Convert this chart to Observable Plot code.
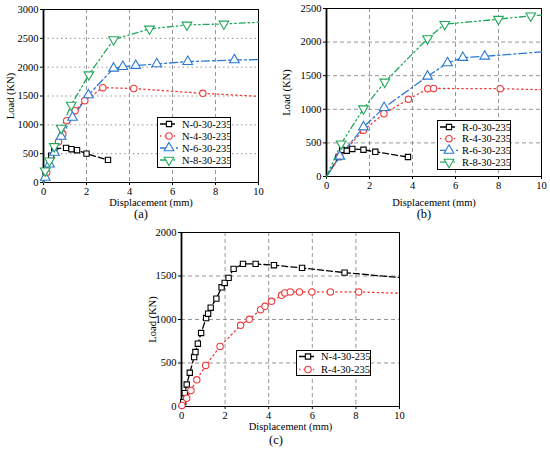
<!DOCTYPE html>
<html>
<head>
<meta charset="utf-8">
<script src="https://cdn.jsdelivr.net/npm/d3@7"></script>
<script src="https://cdn.jsdelivr.net/npm/@observablehq/plot@0.6"></script>
<style>
  html, body { margin: 0; padding: 0; background: #fff; }
  #page { position: relative; width: 550px; height: 452px; overflow: hidden; background: #fff;
          font-family: Liberation Serif, Times New Roman, Times, serif; }
  #page svg, #page svg text { font-family: Liberation Serif, Times New Roman, Times, serif !important; }
  .panel { position: absolute; }
  .tag { position: absolute; font-size: 12.5px; line-height: 1; color: #000; transform: translateX(-50%); }
  .legend { position: absolute; }
</style>
</head>
<body>
<div id="page"></div>
<script>
// ---------- data ----------
const xTicks = [0, 2, 4, 6, 8, 10];
const yTicksA = [0, 500, 1000, 1500, 2000, 2500, 3000];
const yTicksB = [0, 500, 1000, 1500, 2000, 2500];
const yTicksC = [0, 500, 1000, 1500, 2000];

// panel (a)
const aN0x = [0, 0.1, 0.36, 0.5, 1.05, 1.3, 1.56, 2.0, 3.0];
const aN0y = [0, 200, 465, 585, 600, 578, 560, 500, 392];
const aN4x = [0, 0.15, 0.7, 0.9, 1.08, 1.47, 1.92, 2.76, 4.2, 7.41, 10];
const aN4y = [0, 174, 706, 840, 1071, 1245, 1419, 1645, 1630, 1546, 1494];
const aN6x = [0, 0.08, 0.28, 0.51, 0.82, 1.35, 2.09, 3.26, 3.69, 4.29, 5.27, 6.71, 8.88, 10];
const aN6y = [0, 87, 318, 521, 799, 1129, 1517, 1980, 2009, 2027, 2056, 2096, 2125, 2131];
const aN8x = [0, 0.08, 0.28, 0.5, 0.82, 1.29, 2.11, 3.26, 4.93, 6.67, 8.39, 10];
const aN8y = [0, 203, 376, 625, 944, 1343, 1870, 2478, 2664, 2733, 2750, 2779];

// panel (b)
const bR0x = [0, 0.57, 0.73, 0.94, 1.2, 1.72, 2.27, 3.79];
const bR0y = [0, 290, 395, 383, 410, 398, 368, 290];
const bR4x = [0, 0.62, 1.72, 2.67, 3.81, 4.71, 4.98, 8.08, 10];
const bR4y = [0, 300, 690, 934, 1148, 1307, 1310, 1307, 1292];
const bR6x = [0, 0.62, 1.72, 2.68, 4.7, 5.63, 6.34, 7.36, 10];
const bR6y = [0, 300, 736, 1024, 1491, 1690, 1769, 1789, 1854];
const bR8x = [0, 0.68, 1.72, 2.71, 4.7, 5.5, 8.0, 9.5, 10];
const bR8y = [0, 487, 1009, 1407, 2053, 2266, 2341, 2391, 2400];

// panel (c)
const cN4x = [0, 0.08, 0.15, 0.24, 0.38, 0.58, 0.64, 0.75, 0.9, 1.13, 1.22, 1.34, 1.6, 1.84, 1.98, 2.16, 2.39, 2.82, 3.4, 4.24, 5.53, 7.48, 10];
const cN4y = [0, 50, 154, 253, 388, 568, 626, 722, 845, 1017, 1067, 1136, 1240, 1370, 1420, 1478, 1582, 1639, 1639, 1624, 1593, 1539, 1482];
const cR4x = [0, 0.02, 0.24, 0.43, 0.7, 1.11, 1.77, 2.71, 3.11, 3.63, 3.83, 4.13, 4.59, 4.74, 4.99, 5.41, 5.98, 6.83, 8.13, 10];
const cR4y = [0, 12, 96, 184, 307, 472, 691, 933, 1002, 1113, 1152, 1209, 1278, 1305, 1317, 1317, 1317, 1317, 1317, 1301];

// ---------- styles ----------
const FONT = "Liberation Serif, Times New Roman, Times, serif";
const sq3 = Math.sqrt(3);
const triangleDown = {
  draw(ctx, size) {
    const y = -Math.sqrt(size / (sq3 * 3));
    ctx.moveTo(0, -y * 2);
    ctx.lineTo(-sq3 * y, y);
    ctx.lineTo(sq3 * y, y);
    ctx.closePath();
  }
};
const STY = {
  black: {color: "#000000", dash: "6,3", symbol: d3.symbolSquare, r: 3.0},
  red:   {color: "#f03a3a", dash: "1.4,3.2", symbol: d3.symbolCircle, r: 3.2},
  blue:  {color: "#2a78d2", dash: "8,3,2,3", symbol: d3.symbolTriangle, r: 3.6},
  green: {color: "#20a85a", dash: "6,3,1.5,3,1.5,3", symbol: triangleDown, r: 3.6}
};

function zipXY(xs, ys) { return xs.map((x, i) => ({x, y: ys[i]})); }

const page = document.getElementById("page");

function panel(cfg) {
  const series = cfg.series.map(s => ({...s, ...STY[s.style], data: zipXY(s.xs, s.ys)}));
  const marks = [
    Plot.ruleX(xTicks.slice(1, -1), {stroke: "#8a8a8a", strokeDasharray: "4,3", strokeWidth: 0.9}),
    Plot.ruleY(cfg.yTicks.slice(1, -1), {stroke: "#8a8a8a", strokeDasharray: cfg.hDash || "4,3", strokeWidth: 0.9}),
    Plot.frame({stroke: "#000", strokeWidth: 1}),
    Plot.ruleX([0], {stroke: "#000", strokeWidth: 1.8})
  ];
  for (const s of series) {
    marks.push(Plot.line(s.data, {x: "x", y: "y", stroke: s.color, strokeDasharray: s.dash, strokeWidth: 1.3}));
  }
  for (const s of series) {
    marks.push(Plot.dot(s.data.filter(d => d.x > 0 && d.x < 10), {
      x: "x", y: "y", symbol: s.symbol, r: s.r, stroke: s.color, fill: "white", strokeWidth: 1.1
    }));
  }
  marks.push(Plot.text(["Displacement (mm)"], {
    frameAnchor: "bottom", lineAnchor: "middle", textAnchor: "middle",
    dy: cfg.xTitleDy, text: d => d, fontSize: 10.5
  }));
  marks.push(Plot.text(["Load (KN)"], {
    frameAnchor: "left", lineAnchor: "middle", textAnchor: "middle",
    dx: cfg.yTitleDx, rotate: -90, text: d => d, fontSize: 10.5
  }));

  const svg = Plot.plot({
    width: cfg.width, height: cfg.height,
    marginTop: cfg.mt, marginRight: cfg.mr, marginBottom: cfg.mb, marginLeft: cfg.ml,
    style: {fontFamily: FONT, fontSize: "10.5px", background: "transparent", color: "#000"},
    x: {domain: [0, 10], ticks: xTicks, tickSize: 3, tickPadding: 2, tickFormat: d => String(d), label: null},
    y: {domain: [0, cfg.yMax], ticks: cfg.yTicks, tickSize: 3, tickPadding: 2, tickFormat: d => String(d), label: null},
    marks
  });
  svg.classList.add("panel");
  svg.style.left = cfg.left + "px";
  svg.style.top = cfg.top + "px";
  svg.style.overflow = "visible";
  page.appendChild(svg);

  // legend
  const L = cfg.legend;
  const lg = d3.create("svg").attr("class", "legend")
    .attr("width", L.w).attr("height", L.h)
    .style("left", L.x + "px").style("top", L.y + "px");
  lg.append("rect").attr("x", 0.5).attr("y", 0.5).attr("width", L.w - 1).attr("height", L.h - 1)
    .attr("fill", "white").attr("stroke", "#000").attr("stroke-width", 1);
  series.forEach((s, i) => {
    const cy = L.y0 + i * L.dy;
    lg.append("line").attr("x1", 3).attr("x2", 21).attr("y1", cy).attr("y2", cy)
      .attr("stroke", s.color).attr("stroke-width", 1.3).attr("stroke-dasharray", s.dash);
    lg.append("path").attr("transform", `translate(12,${cy})`)
      .attr("d", d3.symbol(s.symbol, Math.PI * s.r * s.r)())
      .attr("fill", "white").attr("stroke", s.color).attr("stroke-width", 1.1);
    lg.append("text").attr("x", 25).attr("y", cy).attr("dy", "0.35em")
      .attr("font-family", FONT).attr("font-size", "10.5px").attr("fill", "#000").text(s.name);
  });
  page.appendChild(lg.node());

  const tag = document.createElement("div");
  tag.className = "tag";
  tag.textContent = cfg.tag.text;
  tag.style.left = cfg.tag.x + "px";
  tag.style.top = cfg.tag.y + "px";
  page.appendChild(tag);
}

panel({
  left: 0, top: 0, width: 270, height: 210, mt: 9, mr: 12, mb: 28, ml: 43,
  yMax: 3000, yTicks: yTicksA, hDash: "1.5,3", xTitleDy: 20, yTitleDx: -33,
  series: [
    {name: "N-0-30-235", xs: aN0x, ys: aN0y, style: "black"},
    {name: "N-4-30-235", xs: aN4x, ys: aN4y, style: "red"},
    {name: "N-6-30-235", xs: aN6x, ys: aN6y, style: "blue"},
    {name: "N-8-30-235", xs: aN8x, ys: aN8y, style: "green"}
  ],
  legend: {x: 157, y: 117, w: 74, h: 51, y0: 7, dy: 12},
  tag: {text: "(a)", x: 141, y: 208}
});

panel({
  left: 275, top: 0, width: 275, height: 210, mt: 8, mr: 9, mb: 34, ml: 51,
  yMax: 2500, yTicks: yTicksB, xTitleDy: 26, yTitleDx: -40,
  series: [
    {name: "R-0-30-235", xs: bR0x, ys: bR0y, style: "black"},
    {name: "R-4-30-235", xs: bR4x, ys: bR4y, style: "red"},
    {name: "R-6-30-235", xs: bR6x, ys: bR6y, style: "blue"},
    {name: "R-8-30-235", xs: bR8x, ys: bR8y, style: "green"}
  ],
  legend: {x: 437, y: 120, w: 74, h: 50, y0: 7, dy: 11.7},
  tag: {text: "(b)", x: 424, y: 208}
});

panel({
  left: 130, top: 220, width: 290, height: 215, mt: 12, mr: 21, mb: 29, ml: 51,
  yMax: 2000, yTicks: yTicksC, xTitleDy: 20, yTitleDx: -29,
  series: [
    {name: "N-4-30-235", xs: cN4x, ys: cN4y, style: "black"},
    {name: "R-4-30-235", xs: cR4x, ys: cR4y, style: "red"}
  ],
  legend: {x: 296, y: 350, w: 75, h: 26, y0: 6.5, dy: 13},
  tag: {text: "(c)", x: 276, y: 434}
});
</script>
</body>
</html>
